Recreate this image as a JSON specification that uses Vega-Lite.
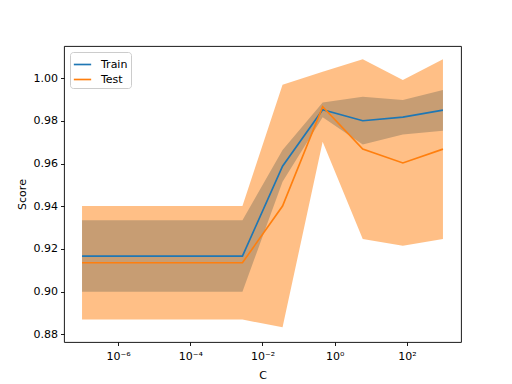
{
  "$schema": "https://vega.github.io/schema/vega-lite/v6.json",
  "width": 397,
  "height": 296,
  "autosize": {"type": "none"},
  "padding": {"left": 64, "top": 46, "right": 51, "bottom": 42},
  "background": "white",
  "config": {
    "font": "DejaVu Sans",
    "view": {"stroke": "black", "strokeWidth": 0.9, "strokeOpacity": 1},
    "axis": {
      "domain": false,
      "grid": false,
      "tickColor": "black",
      "tickSize": 3.5,
      "tickWidth": 0.9,
      "labelColor": "black",
      "labelFont": "DejaVu Sans",
      "labelFontSize": 11,
      "labelPadding": 3,
      "titleFont": "DejaVu Sans",
      "titleFontSize": 11,
      "titleFontWeight": "normal",
      "titleColor": "black"
    }
  },
  "data": {
    "values": [
      {"C": 1e-7, "set": "Train", "mean": 0.9166, "lo": 0.8999, "hi": 0.9334},
      {"C": 1.2915e-6, "set": "Train", "mean": 0.9166, "lo": 0.8999, "hi": 0.9334},
      {"C": 1.6681e-5, "set": "Train", "mean": 0.9166, "lo": 0.8999, "hi": 0.9334},
      {"C": 2.1544e-4, "set": "Train", "mean": 0.9166, "lo": 0.8999, "hi": 0.9334},
      {"C": 2.7826e-3, "set": "Train", "mean": 0.9166, "lo": 0.8999, "hi": 0.9334},
      {"C": 3.5938e-2, "set": "Train", "mean": 0.9588, "lo": 0.9515, "hi": 0.9664},
      {"C": 0.46416, "set": "Train", "mean": 0.9853, "lo": 0.9817, "hi": 0.9887},
      {"C": 5.9948, "set": "Train", "mean": 0.9801, "lo": 0.9690, "hi": 0.9914},
      {"C": 77.426, "set": "Train", "mean": 0.9818, "lo": 0.9737, "hi": 0.9898},
      {"C": 1000, "set": "Train", "mean": 0.9851, "lo": 0.9754, "hi": 0.9945},
      {"C": 1e-7, "set": "Test", "mean": 0.9135, "lo": 0.8869, "hi": 0.9401},
      {"C": 1.2915e-6, "set": "Test", "mean": 0.9135, "lo": 0.8869, "hi": 0.9401},
      {"C": 1.6681e-5, "set": "Test", "mean": 0.9135, "lo": 0.8869, "hi": 0.9401},
      {"C": 2.1544e-4, "set": "Test", "mean": 0.9135, "lo": 0.8869, "hi": 0.9401},
      {"C": 2.7826e-3, "set": "Test", "mean": 0.9135, "lo": 0.8869, "hi": 0.9401},
      {"C": 3.5938e-2, "set": "Test", "mean": 0.9401, "lo": 0.8832, "hi": 0.9970},
      {"C": 0.46416, "set": "Test", "mean": 0.9867, "lo": 0.9703, "hi": 1.0031},
      {"C": 5.9948, "set": "Test", "mean": 0.9668, "lo": 0.9246, "hi": 1.0089},
      {"C": 77.426, "set": "Test", "mean": 0.9603, "lo": 0.9215, "hi": 0.9992},
      {"C": 1000, "set": "Test", "mean": 0.9668, "lo": 0.9246, "hi": 1.0089}
    ]
  },
  "encoding": {
    "x": {
      "field": "C",
      "type": "quantitative",
      "title": "C",
      "scale": {"type": "log", "domain": [3.1623e-8, 3162.3], "nice": false},
      "axis": {
        "values": [1e-6, 1e-4, 1e-2, 1, 100],
        "labelExpr": "datum.value < 1e-5 ? '10⁻⁶' : datum.value < 1e-3 ? '10⁻⁴' : datum.value < 0.1 ? '10⁻²' : datum.value < 10 ? '10⁰' : '10²'",
        "labelPadding": 5,
        "titlePadding": 8
      }
    }
  },
  "layer": [
    {
      "transform": [{"filter": "datum.set == 'Train'"}],
      "mark": {"type": "area", "opacity": 0.5, "color": "#1f77b4"},
      "encoding": {
        "y": {"field": "lo", "type": "quantitative"},
        "y2": {"field": "hi"}
      }
    },
    {
      "transform": [{"filter": "datum.set == 'Test'"}],
      "mark": {"type": "area", "opacity": 0.5, "color": "#ff7f0e"},
      "encoding": {
        "y": {"field": "lo", "type": "quantitative"},
        "y2": {"field": "hi"}
      }
    },
    {
      "mark": {"type": "line", "strokeWidth": 1.67},
      "encoding": {
        "y": {
          "field": "mean",
          "type": "quantitative",
          "title": "Score",
          "scale": {"domain": [0.87634, 1.01516], "nice": false, "zero": false},
          "axis": {
            "values": [0.88, 0.90, 0.92, 0.94, 0.96, 0.98, 1.00],
            "format": ".2f",
            "titlePadding": 6
          }
        },
        "color": {
          "field": "set",
          "type": "nominal",
          "sort": ["Train", "Test"],
          "scale": {"domain": ["Train", "Test"], "range": ["#1f77b4", "#ff7f0e"]},
          "legend": {
            "title": null,
            "orient": "none",
            "legendX": 6,
            "legendY": 6,
            "symbolType": "stroke",
            "symbolSize": 300,
            "symbolStrokeWidth": 1.67,
            "labelFontSize": 11,
            "labelFont": "DejaVu Sans",
            "labelColor": "black",
            "labelOffset": 9,
            "rowPadding": 0,
            "padding": 3,
            "offset": 0,
            "strokeColor": "#cccccc",
            "cornerRadius": 3,
            "fillColor": "white"
          }
        }
      }
    }
  ]
}
